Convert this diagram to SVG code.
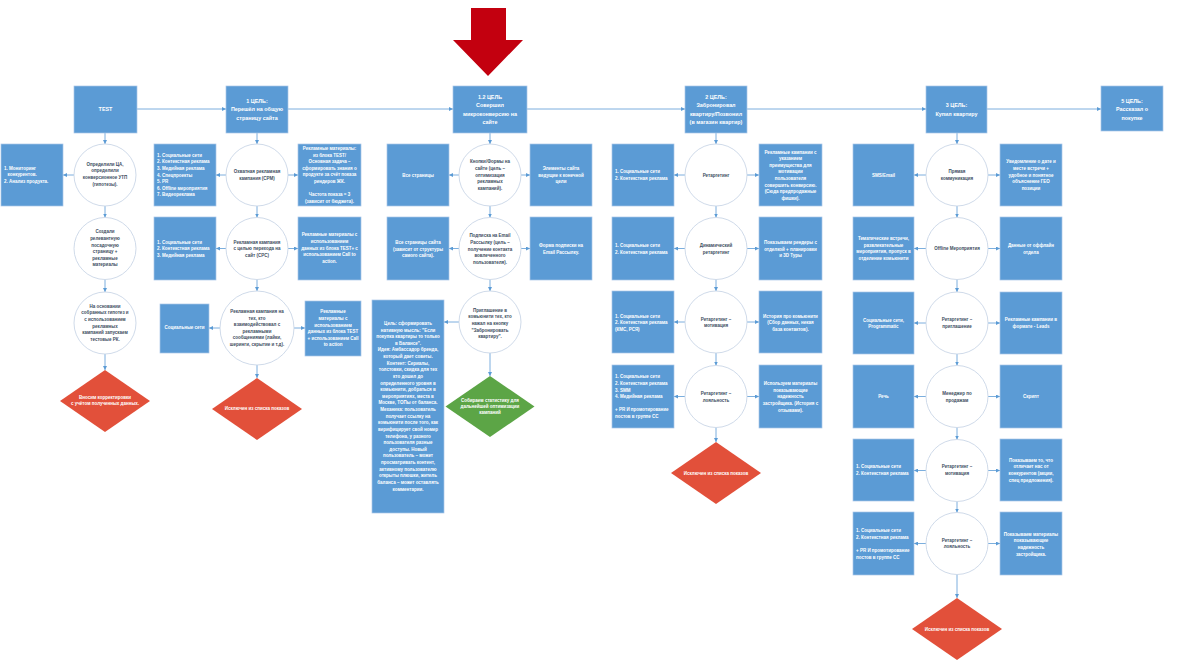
<svg xmlns="http://www.w3.org/2000/svg" width="1180" height="663" viewBox="0 0 1180 663">
<defs>
<style>
.box{fill:#5B9BD5;stroke:#A9C7E8;stroke-width:0.7}
.cir{fill:#fff;stroke:#C9D6E6;stroke-width:0.9}
.red{fill:#E2503A}
.grn{fill:#5CA546}
.t{font-family:"Liberation Sans",Arial,sans-serif;font-size:4.5px;font-weight:bold;fill:#fff}
.c{text-anchor:middle}
.d{fill:#3E4E61}
.h{font-size:5.4px}
.con path{stroke:#5B9BD5;stroke-width:0.8;fill:none;marker-end:url(#ah)}
</style>
<marker id="ah" viewBox="0 0 10 10" refX="10" refY="5" markerUnits="userSpaceOnUse" markerWidth="4" markerHeight="4" orient="auto"><path d="M0,0 L10,5 L0,10 z" fill="#5B9BD5"/></marker>
</defs>
<rect width="1180" height="663" fill="#fff"/>

<polygon id="red-arrow" points="471,8 506,8 506,40 523,40 488,76 453,40 471,40" fill="#C3000F"/>

<g id="connectors" class="con">
<path d="M137,109 H226"/><path d="M288,109 H453"/><path d="M527,109 H685"/><path d="M747,109 H926"/><path d="M987,109 H1101"/>
<path d="M105,133 V144"/><path d="M105,206 V217.5"/><path d="M105,279.5 V292"/><path d="M105,354 V370"/>
<path d="M74,175 H63"/>
<path d="M257,133 V144"/><path d="M257,206 V217.5"/><path d="M257,279.5 V291"/><path d="M257,365 V378"/>
<path d="M226,175 H216"/><path d="M288,175 H298"/><path d="M226,248.5 H216"/><path d="M288,248.5 H298"/><path d="M220,328 H209"/><path d="M294,328 H305"/>
<path d="M490,133 V144"/><path d="M490,206 V217.5"/><path d="M490,279.5 V291"/><path d="M490,353 V376"/>
<path d="M459,175 H449"/><path d="M521,175 H530"/><path d="M459,248.5 H449"/><path d="M521,248.5 H530"/><path d="M459,322 H444"/>
<path d="M716,133 V144"/><path d="M716,206 V217.5"/><path d="M716,279.5 V291"/><path d="M716,353 V365.5"/><path d="M716,427.5 V442"/>
<path d="M685,175 H674"/><path d="M747,175 H759"/><path d="M685,248.5 H674"/><path d="M747,248.5 H759"/><path d="M685,322 H674"/><path d="M747,322 H759"/><path d="M685,396.5 H674"/><path d="M747,396.5 H759"/>
<path d="M957,133 V144"/><path d="M957,206 V217.5"/><path d="M957,279.5 V292"/><path d="M957,354 V365.5"/><path d="M957,427.5 V439.5"/><path d="M957,501.5 V512.5"/><path d="M957,574.5 V598"/>
<path d="M926,175 H914"/><path d="M988,175 H1000"/><path d="M926,248.5 H914"/><path d="M988,248.5 H1000"/><path d="M926,323 H914"/><path d="M988,323 H1000"/><path d="M926,396.5 H914"/><path d="M988,396.5 H1000"/><path d="M926,470.5 H914"/><path d="M988,470.5 H1000"/><path d="M926,543.5 H914"/><path d="M988,543.5 H1000"/>
</g>

<!-- Header row -->
<g id="n-test"><rect class="box" x="74" y="86" width="63" height="47"/><text class="t c h" x="105.5" y="111.2">TEST</text></g>
<g id="n-goal1"><rect class="box" x="226" y="86" width="62" height="47"/><text class="t c h" x="257" y="102.9">1 ЦЕЛЬ:<tspan x="257" dy="8.3">Перешёл на общую</tspan><tspan x="257" dy="8.3">страницу сайта</tspan></text></g>
<g id="n-goal12"><rect class="box" x="453" y="86" width="74" height="47"/><text class="t c h" x="490" y="98.9">1.2 ЦЕЛЬ<tspan x="490" dy="8.3">Совершил</tspan><tspan x="490" dy="8.3">микроконверсию на</tspan><tspan x="490" dy="8.3">сайте</tspan></text></g>
<g id="n-goal2"><rect class="box" x="685" y="86" width="62" height="47"/><text class="t c h" x="716" y="98.9">2 ЦЕЛЬ:<tspan x="716" dy="8.3">Забронировал</tspan><tspan x="716" dy="8.3">квартиру/Позвонил</tspan><tspan x="716" dy="8.3">(в магазин квартир)</tspan></text></g>
<g id="n-goal3"><rect class="box" x="926" y="86" width="61" height="47"/><text class="t c h" x="956.5" y="107.2">3 ЦЕЛЬ:<tspan x="956.5" dy="8.3">Купил квартиру</tspan></text></g>
<g id="n-goal5"><rect class="box" x="1101" y="86" width="62" height="45"/><text class="t c h" x="1132" y="102.9">5 ЦЕЛЬ:<tspan x="1132" dy="8.3">Рассказал о</tspan><tspan x="1132" dy="8.3">покупке</tspan></text></g>

<!-- Column TEST -->
<g id="n-test-l1"><rect class="box" x="1" y="144" width="62" height="62"/><text class="t" x="4" y="169.7">1. Мониторинг<tspan x="7.5" dy="6.6">конкурентов.</tspan><tspan x="4" dy="6.6">2. Анализ продукта.</tspan></text></g>
<g id="n-test-c1"><circle class="cir" cx="105" cy="175" r="31"/><text class="t c d" x="105" y="165.7">Определили ЦА,<tspan x="105" dy="6.6">определили</tspan><tspan x="105" dy="6.6">конверсионное УТП</tspan><tspan x="105" dy="6.6">(гипотезы).</tspan></text></g>
<g id="n-test-c2"><circle class="cir" cx="105" cy="248.5" r="31"/><text class="t c d" x="105" y="233.4">Создали<tspan x="105" dy="6.6">релевантную</tspan><tspan x="105" dy="6.6">посадочную</tspan><tspan x="105" dy="6.6">страницу +</tspan><tspan x="105" dy="6.6">рекламные</tspan><tspan x="105" dy="6.6">материалы</tspan></text></g>
<g id="n-test-c3"><circle class="cir" cx="105" cy="323" r="31"/><text class="t c d" x="105" y="307.8">На основании<tspan x="105" dy="6.6">собранных гипотез и</tspan><tspan x="105" dy="6.6">с использованием</tspan><tspan x="105" dy="6.6">рекламных</tspan><tspan x="105" dy="6.6">кампаний запускаем</tspan><tspan x="105" dy="6.6">тестовые РК.</tspan></text></g>
<g id="n-test-d"><polygon class="red" points="105,370 150,401 105,432 60,401"/><text class="t c" x="105" y="398.6">Вносим корректировки<tspan x="105" dy="6.2">с учётом полученных данных.</tspan></text></g>

<!-- Column 1 -->
<g id="n-g1-l1"><rect class="box" x="154" y="144" width="62" height="62"/><text class="t" x="157" y="156.8">1. Социальные сети<tspan x="157" dy="6.6">2. Контекстная реклама</tspan><tspan x="157" dy="6.6">3. Медийная реклама</tspan><tspan x="157" dy="6.6">4. Спецпроекты</tspan><tspan x="157" dy="6.6">5. PR</tspan><tspan x="157" dy="6.6">6. Offline мероприятия</tspan><tspan x="157" dy="6.6">7. Видеореклама</tspan></text></g>
<g id="n-g1-c1"><circle class="cir" cx="257" cy="175" r="31"/><text class="t c d" x="257" y="173.3">Охватная рекламная<tspan x="257" dy="6.6">кампания (CPM)</tspan></text></g>
<g id="n-g1-r1"><rect class="box" x="298" y="144" width="63" height="62"/><text class="t c" x="329.5" y="149.9">Рекламные материалы:<tspan x="329.5" dy="6.6">из блока TEST/</tspan><tspan x="329.5" dy="6.6">Основная задача –</tspan><tspan x="329.5" dy="6.6">сформировать знания о</tspan><tspan x="329.5" dy="6.6">продукте за счёт показа</tspan><tspan x="329.5" dy="6.6">рендеров ЖК.</tspan><tspan x="329.5" dy="13.2">Частота показа = 3</tspan><tspan x="329.5" dy="6.6">(зависит от бюджета).</tspan></text></g>
<g id="n-g1-l2"><rect class="box" x="154" y="217" width="62" height="63"/><text class="t" x="157" y="243.7">1. Социальные сети<tspan x="157" dy="6.6">2. Контекстная реклама</tspan><tspan x="157" dy="6.6">3. Медийная реклама</tspan></text></g>
<g id="n-g1-c2"><circle class="cir" cx="257" cy="248.5" r="31"/><text class="t c d" x="257" y="243.7">Рекламная кампания<tspan x="257" dy="6.6">с целью перехода на</tspan><tspan x="257" dy="6.6">сайт (CPC)</tspan></text></g>
<g id="n-g1-r2"><rect class="box" x="298" y="217" width="63" height="63"/><text class="t c" x="329.5" y="236.4">Рекламные материалы с<tspan x="329.5" dy="6.6">использованием</tspan><tspan x="329.5" dy="6.6">данных из блока TEST+ с</tspan><tspan x="329.5" dy="6.6">использованием Call to</tspan><tspan x="329.5" dy="6.6">action.</tspan></text></g>
<g id="n-g1-l3"><rect class="box" x="160" y="304" width="49" height="49"/><text class="t c" x="184.5" y="329.3">Социальные сети</text></g>
<g id="n-g1-c3"><circle class="cir" cx="257" cy="328" r="37"/><text class="t c d" x="257" y="312.9">Рекламная кампания на<tspan x="257" dy="6.6">тех, кто</tspan><tspan x="257" dy="6.6">взаимодействовал с</tspan><tspan x="257" dy="6.6">рекламными</tspan><tspan x="257" dy="6.6">сообщениями (лайки,</tspan><tspan x="257" dy="6.6">шеринги, скрытие и т.д).</tspan></text></g>
<g id="n-g1-r3"><rect class="box" x="305" y="301" width="56" height="55"/><text class="t c" x="333" y="313.4">Рекламные<tspan x="333" dy="6.6">материалы с</tspan><tspan x="333" dy="6.6">использованием</tspan><tspan x="333" dy="6.6">данных из блока TEST</tspan><tspan x="333" dy="6.6">+ использованием Call</tspan><tspan x="333" dy="6.6">to action</tspan></text></g>
<g id="n-g1-d"><polygon class="red" points="257,378 302,409 257,440 212,409"/><text class="t c" x="257" y="410">Исключен из списка показов</text></g>

<!-- Column 1.2 -->
<g id="n-g12-l1"><rect class="box" x="387" y="144" width="62" height="62"/><text class="t c" x="418" y="176.6">Все страницы</text></g>
<g id="n-g12-c1"><circle class="cir" cx="490" cy="175" r="31"/><text class="t c d" x="490" y="163.4">Кнопки/Формы на<tspan x="490" dy="6.6">сайте (цель –</tspan><tspan x="490" dy="6.6">оптимизация</tspan><tspan x="490" dy="6.6">рекламных</tspan><tspan x="490" dy="6.6">кампаний).</tspan></text></g>
<g id="n-g12-r1"><rect class="box" x="530" y="144" width="62" height="62"/><text class="t c" x="561" y="170.2">Элементы сайта<tspan x="561" dy="6.6">ведущие к конечной</tspan><tspan x="561" dy="6.6">цели</tspan></text></g>
<g id="n-g12-l2"><rect class="box" x="387" y="217" width="62" height="63"/><text class="t c" x="418" y="244">Все страницы сайта<tspan x="418" dy="6.6">(зависит от структуры</tspan><tspan x="418" dy="6.6">самого сайта).</tspan></text></g>
<g id="n-g12-c2"><circle class="cir" cx="490" cy="248.5" r="31"/><text class="t c d" x="490" y="237.4">Подписка на Email<tspan x="490" dy="6.6">Рассылку (цель –</tspan><tspan x="490" dy="6.6">получение контакта</tspan><tspan x="490" dy="6.6">вовлеченного</tspan><tspan x="490" dy="6.6">пользователя).</tspan></text></g>
<g id="n-g12-r2"><rect class="box" x="530" y="217" width="62" height="63"/><text class="t c" x="561" y="247.3">Форма подписки на<tspan x="561" dy="6.6">Email Рассылку.</tspan></text></g>
<g id="n-g12-c3"><circle class="cir" cx="490" cy="322" r="31"/><text class="t c d" x="490" y="311.7">Приглашение в<tspan x="490" dy="6.6">комьюнити тех, кто</tspan><tspan x="490" dy="6.6">нажал на кнопку</tspan><tspan x="490" dy="6.6">"Забронировать</tspan><tspan x="490" dy="6.6">квартиру".</tspan></text></g>
<g id="n-g12-tall"><rect class="box" x="372" y="300" width="72" height="213"/><text class="t c" x="408" y="324.9">Цель: сформировать<tspan x="408" dy="6.63">нативную мысль: "Если</tspan><tspan x="408" dy="6.63">покупка квартиры то только</tspan><tspan x="408" dy="6.63">в Балансе".</tspan><tspan x="408" dy="6.63">Идея: Амбассадор бренда,</tspan><tspan x="408" dy="6.63">который дает советы.</tspan><tspan x="408" dy="6.63">Контент: Сериалы,</tspan><tspan x="408" dy="6.63">толстовки, скидка для тех</tspan><tspan x="408" dy="6.63">кто дошел до</tspan><tspan x="408" dy="6.63">определенного уровня в</tspan><tspan x="408" dy="6.63">комьюнити, добраться в</tspan><tspan x="408" dy="6.63">мероприятиях, места в</tspan><tspan x="408" dy="6.63">Москве, ТОПы от баланса.</tspan><tspan x="408" dy="6.63">Механика: пользователь</tspan><tspan x="408" dy="6.63">получает ссылку на</tspan><tspan x="408" dy="6.63">комьюнити после того, как</tspan><tspan x="408" dy="6.63">верифицирует свой номер</tspan><tspan x="408" dy="6.63">телефона, у разного</tspan><tspan x="408" dy="6.63">пользователя разные</tspan><tspan x="408" dy="6.63">доступы. Новый</tspan><tspan x="408" dy="6.63">пользователь – может</tspan><tspan x="408" dy="6.63">просматривать контент,</tspan><tspan x="408" dy="6.63">активному пользователю</tspan><tspan x="408" dy="6.63">открыты плюшки, житель</tspan><tspan x="408" dy="6.63">баланса – может оставлять</tspan><tspan x="408" dy="6.63">комментарии.</tspan></text></g>
<g id="n-g12-d"><polygon class="grn" points="490,376 534.5,406.5 490,437 445.5,406.5"/><text class="t c" x="490" y="402.3">Собираем статистику для<tspan x="490" dy="6">дальнейшей оптимизации</tspan><tspan x="490" dy="6">кампаний</tspan></text></g>

<!-- Column 2 -->
<g id="n-g2-l1"><rect class="box" x="612" y="144" width="62" height="62"/><text class="t" x="615" y="173.3">1. Социальные сети<tspan x="615" dy="6.6">2. Контекстная реклама</tspan></text></g>
<g id="n-g2-c1"><circle class="cir" cx="716" cy="175" r="31"/><text class="t c d" x="716" y="176.6">Ретаргетинг</text></g>
<g id="n-g2-r1"><rect class="box" x="759" y="144" width="63" height="62"/><text class="t c" x="790.5" y="153.5">Рекламные кампании с<tspan x="790.5" dy="6.6">указанием</tspan><tspan x="790.5" dy="6.6">преимущества для</tspan><tspan x="790.5" dy="6.6">мотивации</tspan><tspan x="790.5" dy="6.6">пользователя</tspan><tspan x="790.5" dy="6.6">совершить конверсию.</tspan><tspan x="790.5" dy="6.6">(Сюда предпродажные</tspan><tspan x="790.5" dy="6.6">фишки).</tspan></text></g>
<g id="n-g2-l2"><rect class="box" x="612" y="217" width="62" height="63"/><text class="t" x="615" y="247">1. Социальные сети<tspan x="615" dy="6.6">2. Контекстная реклама</tspan></text></g>
<g id="n-g2-c2"><circle class="cir" cx="716" cy="248.5" r="31"/><text class="t c d" x="716" y="247">Динамический<tspan x="716" dy="6.6">ретаргетинг</tspan></text></g>
<g id="n-g2-r2"><rect class="box" x="759" y="217" width="63" height="63"/><text class="t c" x="790.5" y="244">Показываем рендеры с<tspan x="790.5" dy="6.6">отделкой + планировки</tspan><tspan x="790.5" dy="6.6">и 3D Туры</tspan></text></g>
<g id="n-g2-l3"><rect class="box" x="612" y="291" width="62" height="62"/><text class="t" x="615" y="317.7">1. Социальные сети<tspan x="615" dy="6.6">2. Контекстная реклама</tspan><tspan x="615" dy="6.6">(КМС, РСЯ)</tspan></text></g>
<g id="n-g2-c3"><circle class="cir" cx="716" cy="322" r="31"/><text class="t c d" x="716" y="320.5">Ретаргетинг –<tspan x="716" dy="6.6">мотивация</tspan></text></g>
<g id="n-g2-r3"><rect class="box" x="759" y="291" width="63" height="62"/><text class="t c" x="790.5" y="317.7">История про комьюнити<tspan x="790.5" dy="6.6">(Сбор данных, некая</tspan><tspan x="790.5" dy="6.6">база контактов).</tspan></text></g>
<g id="n-g2-l4"><rect class="box" x="612" y="365" width="62" height="63"/><text class="t" x="615" y="378.3">1. Социальные сети<tspan x="615" dy="6.6">2. Контекстная реклама</tspan><tspan x="615" dy="6.6">3. SMM</tspan><tspan x="615" dy="6.6">4. Медийная реклама</tspan><tspan x="615" dy="13.2">+ PR И промотирование</tspan><tspan x="615" dy="6.6">постов в группе СС</tspan></text></g>
<g id="n-g2-c4"><circle class="cir" cx="716" cy="396.5" r="31"/><text class="t c d" x="716" y="395">Ретаргетинг –<tspan x="716" dy="6.6">лояльность</tspan></text></g>
<g id="n-g2-r4"><rect class="box" x="759" y="365" width="63" height="63"/><text class="t c" x="790.5" y="385.1">Используем материалы<tspan x="790.5" dy="6.6">показывающие</tspan><tspan x="790.5" dy="6.6">надежность</tspan><tspan x="790.5" dy="6.6">застройщика. (История с</tspan><tspan x="790.5" dy="6.6">отзывами).</tspan></text></g>
<g id="n-g2-d"><polygon class="red" points="716,442 761,473 716,504 671,473"/><text class="t c" x="716" y="474.8">Исключен из списка показов</text></g>

<!-- Column 3 -->
<g id="n-g3-l1"><rect class="box" x="853" y="144" width="61" height="62"/><text class="t c" x="883.5" y="176.6">SMS/Email</text></g>
<g id="n-g3-c1"><circle class="cir" cx="957" cy="175" r="31"/><text class="t c d" x="957" y="173.3">Прямая<tspan x="957" dy="6.6">коммуникация</tspan></text></g>
<g id="n-g3-r1"><rect class="box" x="1000" y="144" width="62" height="62"/><text class="t c" x="1031" y="163.4">Уведомление о дате и<tspan x="1031" dy="6.6">месте встречи +</tspan><tspan x="1031" dy="6.6">удобное и понятное</tspan><tspan x="1031" dy="6.6">объяснение ГЕО</tspan><tspan x="1031" dy="6.6">позиции</tspan></text></g>
<g id="n-g3-l2"><rect class="box" x="853" y="217" width="61" height="63"/><text class="t c" x="883.5" y="240">Тематические встречи,<tspan x="883.5" dy="6.6">развлекательные</tspan><tspan x="883.5" dy="6.6">мероприятия, пропуск в</tspan><tspan x="883.5" dy="6.6">отделение комьюнити</tspan></text></g>
<g id="n-g3-c2"><circle class="cir" cx="957" cy="248.5" r="31"/><text class="t c d" x="957" y="250.4">Offline Мероприятия</text></g>
<g id="n-g3-r2"><rect class="box" x="1000" y="217" width="62" height="63"/><text class="t c" x="1031" y="247.3">Данные от оффлайн<tspan x="1031" dy="6.6">отдела</tspan></text></g>
<g id="n-g3-l3"><rect class="box" x="853" y="292" width="61" height="62"/><text class="t c" x="883.5" y="321.5">Социальные сети,<tspan x="883.5" dy="6.6">Programmatic</tspan></text></g>
<g id="n-g3-c3"><circle class="cir" cx="957" cy="323" r="31"/><text class="t c d" x="957" y="321">Ретаргетинг –<tspan x="957" dy="6.6">приглашение</tspan></text></g>
<g id="n-g3-r3"><rect class="box" x="1000" y="292" width="62" height="62"/><text class="t c" x="1031" y="321">Рекламные кампании в<tspan x="1031" dy="6.6">формате - Leads</tspan></text></g>
<g id="n-g3-l4"><rect class="box" x="853" y="365" width="61" height="63"/><text class="t c" x="883.5" y="398.2">Речь</text></g>
<g id="n-g3-c4"><circle class="cir" cx="957" cy="396.5" r="31"/><text class="t c d" x="957" y="395">Менеджер по<tspan x="957" dy="6.6">продажам</tspan></text></g>
<g id="n-g3-r4"><rect class="box" x="1000" y="365" width="62" height="63"/><text class="t c" x="1031" y="398.2">Скрипт</text></g>
<g id="n-g3-l5"><rect class="box" x="853" y="439" width="61" height="62"/><text class="t" x="856" y="468">1. Социальные сети<tspan x="856" dy="6.6">2. Контекстная реклама</tspan></text></g>
<g id="n-g3-c5"><circle class="cir" cx="957" cy="470.5" r="31"/><text class="t c d" x="957" y="468.3">Ретаргетинг –<tspan x="957" dy="6.6">мотивация</tspan></text></g>
<g id="n-g3-r5"><rect class="box" x="1000" y="439" width="62" height="62"/><text class="t c" x="1031" y="461.7">Показываем то, что<tspan x="1031" dy="6.6">отличает нас от</tspan><tspan x="1031" dy="6.6">конкурентов (акции,</tspan><tspan x="1031" dy="6.6">спец предложения).</tspan></text></g>
<g id="n-g3-l6"><rect class="box" x="853" y="512" width="61" height="63"/><text class="t" x="856" y="532.4">1. Социальные сети<tspan x="856" dy="6.6">2. Контекстная реклама</tspan><tspan x="856" dy="13.2">+ PR И промотирование</tspan><tspan x="856" dy="6.6">постов в группе СС</tspan></text></g>
<g id="n-g3-c6"><circle class="cir" cx="957" cy="543.5" r="31"/><text class="t c d" x="957" y="541.6">Ретаргетинг –<tspan x="957" dy="6.6">лояльность</tspan></text></g>
<g id="n-g3-r6"><rect class="box" x="1000" y="512" width="62" height="63"/><text class="t c" x="1031" y="535.7">Показываем материалы<tspan x="1031" dy="6.6">показывающие</tspan><tspan x="1031" dy="6.6">надежность</tspan><tspan x="1031" dy="6.6">застройщика.</tspan></text></g>
<g id="n-g3-d"><polygon class="red" points="957,598 1002,629 957,660 912,629"/><text class="t c" x="957" y="630.6">Исключен из списка показов</text></g>
</svg>
